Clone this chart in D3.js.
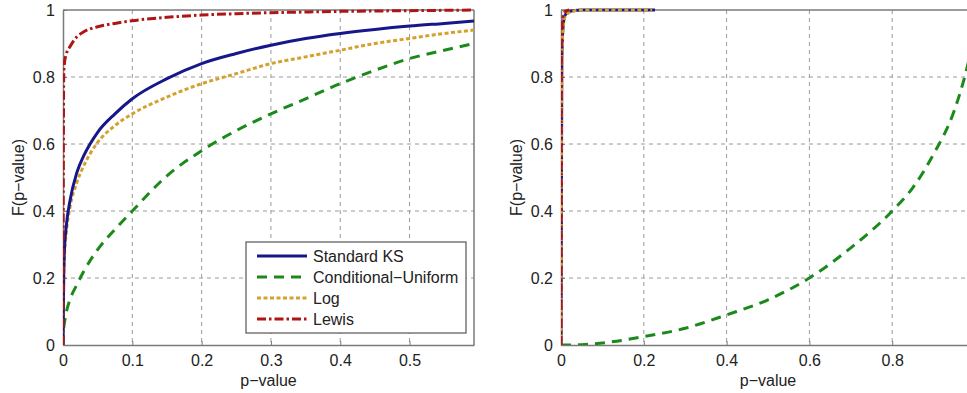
<!DOCTYPE html>
<html><head><meta charset="utf-8">
<script src="https://cdn.jsdelivr.net/npm/d3@7"></script>
<style>body{margin:0;background:#fff}svg{display:block}text{font-family:"Liberation Sans",Arial,sans-serif}</style>
</head><body>
<svg id="c" width="967" height="393"></svg>
<script>
// ---- data ----
const seriesNames = ["Standard KS", "Conditional\u2212Uniform", "Log", "Lewis"];
const xTicksLeft = [0, 0.1, 0.2, 0.3, 0.4, 0.5];
const xTicksRight = [0, 0.2, 0.4, 0.6, 0.8];
const yTicks = [0, 0.2, 0.4, 0.6, 0.8, 1];

// left panel
const leftP   = [0, 0.001, 0.002, 0.005, 0.01, 0.02, 0.03, 0.05, 0.075, 0.1, 0.15, 0.2, 0.25, 0.3, 0.35, 0.4, 0.45, 0.5, 0.55, 0.593];
const leftKS  = [0, 0.20, 0.28, 0.36, 0.43, 0.515, 0.565, 0.635, 0.69, 0.735, 0.795, 0.84, 0.87, 0.895, 0.915, 0.93, 0.942, 0.952, 0.960, 0.967];
const leftCU  = [0, 0.05, 0.065, 0.10, 0.135, 0.18, 0.22, 0.285, 0.345, 0.40, 0.505, 0.58, 0.64, 0.69, 0.735, 0.78, 0.82, 0.855, 0.88, 0.90];
const leftLog = [0, 0.18, 0.26, 0.34, 0.41, 0.485, 0.535, 0.605, 0.655, 0.69, 0.74, 0.78, 0.81, 0.84, 0.86, 0.88, 0.90, 0.915, 0.93, 0.94];
const leftLew = [0, 0.80, 0.84, 0.87, 0.89, 0.92, 0.935, 0.95, 0.96, 0.968, 0.978, 0.985, 0.989, 0.992, 0.994, 0.996, 0.997, 0.998, 0.999, 1.0];

// right panel
const rightP    = [0, 0.002, 0.005, 0.01, 0.02, 0.03, 0.05, 0.1, 0.15, 0.2, 0.227];
const rightKS   = [0, 0.85, 0.95, 0.985, 0.995, 0.998, 1, 1, 1, 1, 1];
const rightLogP = [0, 0.002, 0.005, 0.01, 0.02, 0.03, 0.05, 0.1, 0.15, 0.2, 0.22];
const rightLog  = [0, 0.84, 0.945, 0.98, 0.993, 0.997, 1, 1, 1, 1, 1];
const rightLewP = [0, 0.001, 0.002, 0.005, 0.01, 0.02];
const rightLew  = [0, 0.90, 0.94, 0.98, 0.995, 1];
const rightCUP  = [0, 0.05, 0.1, 0.2, 0.3, 0.4, 0.5, 0.6, 0.7, 0.8, 0.85, 0.9, 0.95, 0.975, 1.0];
const rightCU   = [0, 0.001, 0.006, 0.025, 0.05, 0.09, 0.135, 0.20, 0.29, 0.40, 0.47, 0.57, 0.70, 0.80, 0.93];

// ---- styles ----
const styles = [
  {color: "#17178a", dash: null},
  {color: "#1b8a1b", dash: "10,7"},
  {color: "#d4a12e", dash: "4,2.5"},
  {color: "#b01515", dash: "9,3,2.5,3"}
];

const svg = d3.select("#c");
const plotTop = 10, plotBottom = 345;

function panel(x0, x1, domainMax, xTicks, fmt, series, id, fullBox) {
  const x = d3.scaleLinear().domain([0, domainMax]).range([x0, x1]);
  const y = d3.scaleLinear().domain([0, 1]).range([plotBottom, plotTop]);
  const g = svg.append("g");
  g.append("clipPath").attr("id", id).append("rect")
    .attr("x", x0).attr("y", plotTop - 3).attr("width", x1 - x0).attr("height", plotBottom - plotTop + 3);
  // grid
  g.selectAll(".vg").data(xTicks.filter(d => d > 0 && d < domainMax)).enter().append("line")
    .attr("x1", d => x(d)).attr("x2", d => x(d)).attr("y1", plotTop).attr("y2", plotBottom)
    .attr("stroke", "#9a9a9a").attr("stroke-width", 1).attr("stroke-dasharray", "4,4");
  g.selectAll(".hg").data(yTicks.filter(d => d > 0 && d < 1)).enter().append("line")
    .attr("x1", x0).attr("x2", x1).attr("y1", d => y(d)).attr("y2", d => y(d))
    .attr("stroke", "#9a9a9a").attr("stroke-width", 1).attr("stroke-dasharray", "4,4");
  // axes via d3
  const xa = d3.axisBottom(x).tickValues(xTicks).tickFormat(fmt).tickSizeInner(-4).tickSizeOuter(0).tickPadding(10);
  const ya = d3.axisLeft(y).tickValues(yTicks).tickFormat(d3.format("~g")).tickSizeInner(-4).tickSizeOuter(0).tickPadding(8);
  const gx = g.append("g").attr("transform", `translate(0,${plotBottom})`).call(xa);
  const gy = g.append("g").attr("transform", `translate(${x0},0)`).call(ya);
  [gx, gy].forEach(a => {
    a.select(".domain").attr("stroke", "#7a7a7a").attr("stroke-width", 1.5);
    a.selectAll(".tick line").attr("stroke", "#7a7a7a");
    a.selectAll("text").attr("fill", "#222").attr("font-size", 16);
  });
  // top and right border
  g.append("line").attr("x1", x0).attr("x2", x1).attr("y1", plotTop).attr("y2", plotTop)
    .attr("stroke", "#7a7a7a").attr("stroke-width", 1.5);
  if (fullBox) g.append("line").attr("x1", x1).attr("x2", x1).attr("y1", plotTop).attr("y2", plotBottom)
    .attr("stroke", "#7a7a7a").attr("stroke-width", 1.5);
  // curves
  const line = d3.line().x(d => x(d[0])).y(d => y(d[1])).curve(d3.curveMonotoneX);
  const lg = g.append("g").attr("clip-path", `url(#${id})`);
  series.forEach(s => {
    lg.append("path").datum(d3.zip(s.xs, s.ys)).attr("d", line)
      .attr("fill", "none").attr("stroke", styles[s.k].color).attr("stroke-width", 3)
      .attr("stroke-dasharray", styles[s.k].dash);
  });
  // labels
  g.append("text").attr("x", (x0 + x1) / 2).attr("y", 386).attr("text-anchor", "middle")
    .attr("font-size", 16).attr("fill", "#222").text("p\u2212value");
  g.append("text").attr("transform", `translate(${x0 - 39},${(plotTop + plotBottom) / 2}) rotate(-90)`)
    .attr("text-anchor", "middle").attr("font-size", 16).attr("fill", "#222").text("F(p\u2212value)");
  return {x, y};
}

panel(63, 474, 0.593, xTicksLeft, d3.format("~g"), [
  {k: 1, xs: leftP, ys: leftCU},
  {k: 2, xs: leftP, ys: leftLog},
  {k: 0, xs: leftP, ys: leftKS},
  {k: 3, xs: leftP, ys: leftLew}
], "clipL", true);

panel(561, 975, 1, xTicksRight, d3.format("~g"), [
  {k: 1, xs: rightCUP, ys: rightCU},
  {k: 0, xs: rightP, ys: rightKS},
  {k: 2, xs: rightLogP, ys: rightLog},
  {k: 3, xs: rightLewP, ys: rightLew}
], "clipR", false);

// legend
const lgd = svg.append("g");
lgd.append("rect").attr("x", 246).attr("y", 242).attr("width", 220).attr("height", 91)
  .attr("fill", "#fff").attr("stroke", "#555").attr("stroke-width", 1.2);
seriesNames.forEach((n, i) => {
  const yy = 256 + i * 21;
  lgd.append("line").attr("x1", 257).attr("x2", 307).attr("y1", yy).attr("y2", yy)
    .attr("stroke", styles[i].color).attr("stroke-width", 3).attr("stroke-dasharray", styles[i].dash);
  lgd.append("text").attr("x", 313).attr("y", yy + 6).attr("font-size", 16).attr("fill", "#222").text(n);
});
</script>
</body></html>
